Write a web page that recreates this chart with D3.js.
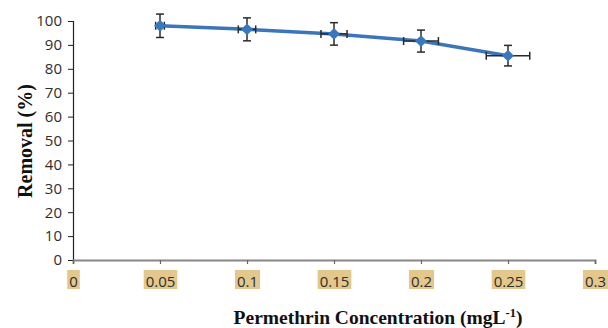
<!DOCTYPE html>
<html><head><meta charset="utf-8">
<script src="https://cdn.jsdelivr.net/npm/d3@7"></script>
<style>html,body{margin:0;padding:0;background:#fff;}svg{display:block;}</style>
</head><body>
<script>
const concentrations = [0.05, 0.1, 0.15, 0.2, 0.25];
const removal = [98.0, 96.5, 94.6, 91.6, 85.5];
const removalErr = [4.9, 4.8, 4.7, 4.6, 4.3];
const concErr = [0.0025, 0.005, 0.0075, 0.01, 0.0125];
const xTicks = [0, 0.05, 0.1, 0.15, 0.2, 0.25, 0.3];
const yTicks = [0, 10, 20, 30, 40, 50, 60, 70, 80, 90, 100];

const W = 608, H = 328;
const svg = d3.select("body").append("svg").attr("width", W).attr("height", H);
const x = d3.scaleLinear().domain([0, 0.3]).range([73, 595]);
const y = d3.scaleLinear().domain([0, 100]).range([260, 21]);

// y axis
const yAxis = svg.append("g").attr("transform", `translate(${x(0)},0)`)
  .call(d3.axisLeft(y).tickValues(yTicks).tickSize(5).tickPadding(6).tickFormat(d3.format("d")));
yAxis.select(".domain").attr("stroke", "#222").attr("stroke-width", 1.2);
yAxis.selectAll(".tick line").attr("stroke", "#222");
yAxis.selectAll("text").attr("font-family", "Open Sans").attr("font-size", 15).attr("fill", "#2e2e2e");

// x axis
const xAxis = svg.append("g").attr("transform", `translate(0,${y(0)})`)
  .call(d3.axisBottom(x).tickValues(xTicks).tickSize(4).tickPadding(12).tickSizeOuter(4)
    .tickFormat(d => d3.format("")(+d.toFixed(2))));
xAxis.select(".domain").attr("stroke", "#878787").attr("stroke-width", 1.8);
xAxis.selectAll(".tick line").attr("stroke", "#666").attr("stroke-width", 1.2);
xAxis.selectAll(".tick text").attr("font-family", "Open Sans").attr("font-size", 15).attr("fill", "#2e2e2e");
xAxis.selectAll(".tick").each(function() {
  const g = d3.select(this);
  const t = g.select("text");
  const bb = t.node().getBBox();
  g.insert("rect", "text").attr("x", bb.x - 2).attr("y", 10).attr("width", bb.width + 4).attr("height", 19)
    .attr("fill", "#e3c78c");
});

const pts = concentrations.map((c, i) => ({c, r: removal[i], re: removalErr[i], ce: concErr[i]}));

// line
svg.append("path").datum(pts)
  .attr("fill", "none").attr("stroke", "#3b76b9").attr("stroke-width", 3.5)
  .attr("d", d3.line().x(d => x(d.c)).y(d => y(d.r)));

// error bars
const eb = svg.append("g").attr("stroke", "#2b2b2b").attr("stroke-width", 1.5);
pts.forEach(d => {
  const cx = x(d.c), cy = y(d.r);
  eb.append("line").attr("x1", cx).attr("x2", cx).attr("y1", y(d.r + d.re)).attr("y2", y(d.r - d.re));
  eb.append("line").attr("x1", cx - 4).attr("x2", cx + 4).attr("y1", y(d.r + d.re)).attr("y2", y(d.r + d.re));
  eb.append("line").attr("x1", cx - 4).attr("x2", cx + 4).attr("y1", y(d.r - d.re)).attr("y2", y(d.r - d.re));
  eb.append("line").attr("x1", x(d.c - d.ce)).attr("x2", x(d.c + d.ce)).attr("y1", cy).attr("y2", cy);
  eb.append("line").attr("x1", x(d.c - d.ce)).attr("x2", x(d.c - d.ce)).attr("y1", cy - 4).attr("y2", cy + 4);
  eb.append("line").attr("x1", x(d.c + d.ce)).attr("x2", x(d.c + d.ce)).attr("y1", cy - 4).attr("y2", cy + 4);
});

// markers
svg.append("g").selectAll("path").data(pts).join("path")
  .attr("transform", d => `translate(${x(d.c)},${y(d.r)})`)
  .attr("d", d3.symbol(d3.symbolDiamond2, 90)())
  .attr("fill", "#3a78bd");

// titles
svg.append("text").attr("x", 378).attr("y", 324).attr("text-anchor", "middle")
  .attr("font-family", "Liberation Serif").attr("font-weight", "bold").attr("font-size", 19.5).attr("fill", "#111")
  .html('Permethrin Concentration (mgL<tspan dy="-7" font-size="12.5">-1</tspan><tspan dy="7">)</tspan>');
svg.append("text").attr("transform", "translate(32,141) rotate(-90)").attr("text-anchor", "middle")
  .attr("font-family", "Liberation Serif").attr("font-weight", "bold").attr("font-size", 20).attr("fill", "#111")
  .text("Removal (%)");
</script>
</body></html>
